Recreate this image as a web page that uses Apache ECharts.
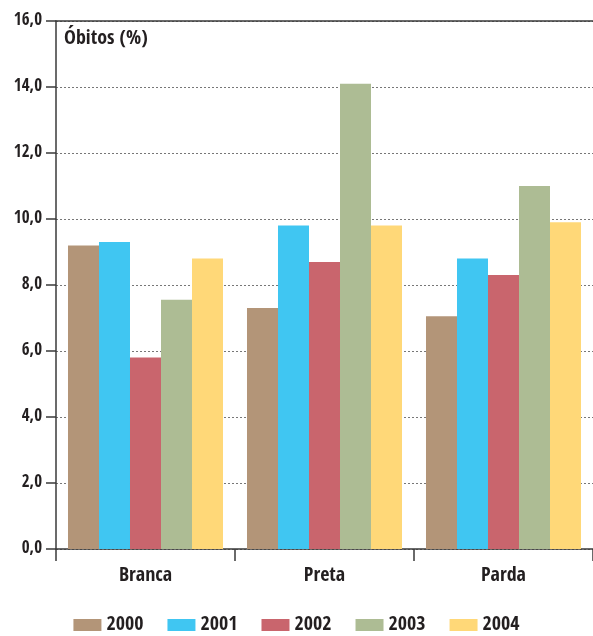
<!DOCTYPE html>
<html>
<head>
<meta charset="utf-8">
<script src="https://cdn.jsdelivr.net/npm/echarts@6/dist/echarts.min.js"></script>
<style>
  html, body { margin: 0; padding: 0; background: #fff; }
  #chart { width: 593px; height: 636px; }
</style>
</head>
<body>
<div id="chart"></div>
<script>
// Mortality share (%) by race/colour group and year
const categories = ['Branca', 'Preta', 'Parda'];
const years = ['2000', '2001', '2002', '2003', '2004'];
const v2000 = [9.2, 7.3, 7.05];
const v2001 = [9.3, 9.8, 8.8];
const v2002 = [5.8, 8.7, 8.3];
const v2003 = [7.55, 14.1, 11.0];
const v2004 = [8.8, 9.8, 9.9];
const yTickLabels = ['0,0', '2,0', '4,0', '6,0', '8,0', '10,0', '12,0', '14,0', '16,0'];

const seriesValues = [v2000, v2001, v2002, v2003, v2004];
const colors = ['#b39578', '#40c6f2', '#c9656d', '#adbc94', '#ffd878'];
const FONT = '"Open Sans Condensed", "Roboto Condensed", sans-serif';
const INK = '#231f20';
const AXIS = '#3a3a3a';

const chart = echarts.init(document.getElementById('chart'));
chart.setOption({
  animation: false,
  color: colors,
  textStyle: { fontFamily: FONT },
  grid: { left: 56, right: 0, top: 21, bottom: 87, containLabel: false },
  legend: {
    top: 609,
    left: 'center',
    itemWidth: 28,
    itemHeight: 12,
    itemGap: 24,
    icon: 'rect',
    textStyle: { fontFamily: FONT, fontWeight: 'bold', fontSize: 20, color: INK, lineHeight: 22 },
    data: years
  },
  graphic: [{
    type: 'text',
    left: 64,
    top: 29,
    style: { text: 'Óbitos (%)', font: 'bold 20px ' + FONT, fill: INK }
  }],
  xAxis: [{
    type: 'category',
    data: categories,
    axisLine: { lineStyle: { color: AXIS, width: 1.5 } },
    axisTick: { show: true, interval: 0, length: 12, lineStyle: { color: AXIS, width: 1.5 } },
    axisLabel: { margin: 17, fontSize: 20, fontWeight: 'bold', color: INK, fontFamily: FONT }
  }, {
    type: 'category',
    data: categories,
    position: 'top',
    axisLine: { show: true, lineStyle: { color: AXIS, width: 1.5 } },
    axisTick: { show: false },
    axisLabel: { show: false }
  }],
  yAxis: {
    type: 'value',
    min: 0,
    max: 16,
    interval: 2,
    axisLine: { show: true, lineStyle: { color: AXIS, width: 1.5 } },
    axisTick: { show: true, length: 10, lineStyle: { color: AXIS, width: 1.5 } },
    axisLabel: {
      margin: 14,
      fontSize: 17,
      fontWeight: 'bold',
      color: INK,
      fontFamily: FONT,
      formatter: (v) => yTickLabels[Math.round(v / 2)]
    },
    splitLine: { show: true, lineStyle: { color: '#777', width: 1, type: [2, 2] } }
  },
  series: years.map((y, i) => ({
    name: y,
    type: 'bar',
    data: seriesValues[i],
    barGap: '0%',
    barCategoryGap: '13.4%',
    itemStyle: { color: colors[i] }
  }))
});
</script>
</body>
</html>
